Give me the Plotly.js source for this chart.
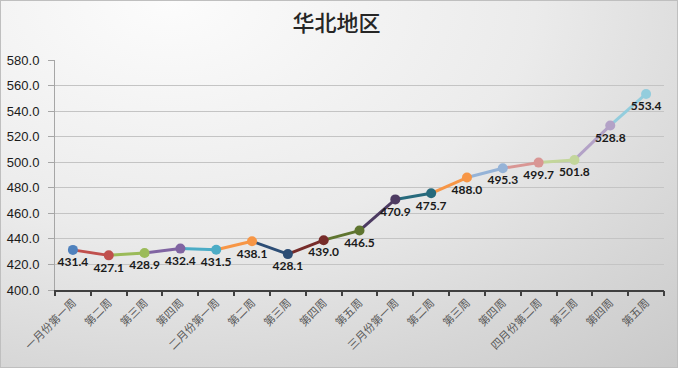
<!DOCTYPE html>
<html>
<head>
<meta charset="utf-8">
<script src="https://cdn.plot.ly/plotly-3.0.1.min.js"></script>
<style>
html,body{margin:0;padding:0;}
#chart{width:678px;height:368px;box-sizing:border-box;border:1px solid #BFBFBF;
background:radial-gradient(ellipse 120% 140% at 25% 0%, #FCFCFC 0%, #EBEBEB 45%, #D6D6D6 75%, #C6C6C6 100%);}
</style>
</head>
<body>
<div id="chart"></div>
<script>
const categories = ['一月份第一周','第二周','第三周','第四周','二月份第一周','第二周','第三周','第四周','第五周','三月份第一周','第二周','第三周','第四周','四月份第二周','第三周','第四周','第五周'];
const values = [431.4,427.1,428.9,432.4,431.5,438.1,428.1,439.0,446.5,470.9,475.7,488.0,495.3,499.7,501.8,528.8,553.4];
const pointColors = ['#4F81BD','#C0504D','#9BBB59','#8064A2','#4BACC6','#F79646','#2C4D75','#772C2A','#5F7530','#4D3B62','#276A7C','#F79646','#95B3D7','#D99694','#C3D69B','#B3A2C7','#93CDDD'];
const yTicks = [400,420,440,460,480,500,520,540,560,580];

const xIdx = categories.map((c,i)=>i);
const traces = [];
for (let i = 1; i < values.length; i++) {
  traces.push({
    x:[xIdx[i-1], xIdx[i]], y:[values[i-1], values[i]],
    mode:'lines', line:{color:pointColors[i], width:3},
    hoverinfo:'skip', showlegend:false
  });
}
traces.push({
  x:xIdx, y:values, mode:'markers+text',
  marker:{color:pointColors, size:10},
  text:values.map(v=>v.toFixed(1)), textposition:'bottom center',
  textfont:{family:'Lato, "Open Sans", sans-serif', size:12, color:'#1a1a1a', weight:'bold'},
  showlegend:false
});
// boundary ticks overlay
traces.push({x:[-0.5,16.5], y:[400,400], xaxis:'x2', mode:'lines', line:{width:0}, hoverinfo:'skip', showlegend:false});

const boundaries = [];
for (let i = 0; i <= categories.length; i++) boundaries.push(i - 0.5);

const layout = {
  width:678, height:368,
  paper_bgcolor:'rgba(0,0,0,0)', plot_bgcolor:'rgba(0,0,0,0)',
  margin:{l:54, r:15, t:59, b:79},
  title:{text:'华北地区', font:{family:'"Noto Sans CJK SC", sans-serif', size:22, color:'#262626', weight:500},
    x:0.495, xanchor:'center', y:0.94, yanchor:'middle', yref:'container'},
  xaxis:{range:[-0.5,16.5], tickvals:xIdx, ticktext:categories, tickangle:-45,
    ticks:'', showgrid:false, zeroline:false, showline:true, linecolor:'#404040', linewidth:2,
    tickfont:{family:'"Noto Sans CJK SC", sans-serif', size:11, color:'#595959'}},
  xaxis2:{overlaying:'x', anchor:'y', side:'bottom', range:[-0.5,16.5], tickvals:boundaries,
    ticktext:boundaries.map(()=>''), ticks:'outside', ticklen:5, tickwidth:2, tickcolor:'#404040',
    showgrid:false, zeroline:false, showline:false},
  yaxis:{range:[400,580], tickvals:yTicks, ticktext:yTicks.map(v=>v.toFixed(1)),
    showgrid:true, gridcolor:'#C4C4C4', gridwidth:1, zeroline:false,
    showline:true, linecolor:'#A6A6A6', linewidth:1, ticks:'outside', ticklen:6, tickcolor:'#A6A6A6',
    ticklabelstandoff:6,
    tickfont:{family:'"Liberation Sans", Arial, sans-serif', size:13, color:'#1a1a1a'}}
};
Plotly.newPlot('chart', traces, layout, {displayModeBar:false, staticPlot:true});
</script>
</body>
</html>
